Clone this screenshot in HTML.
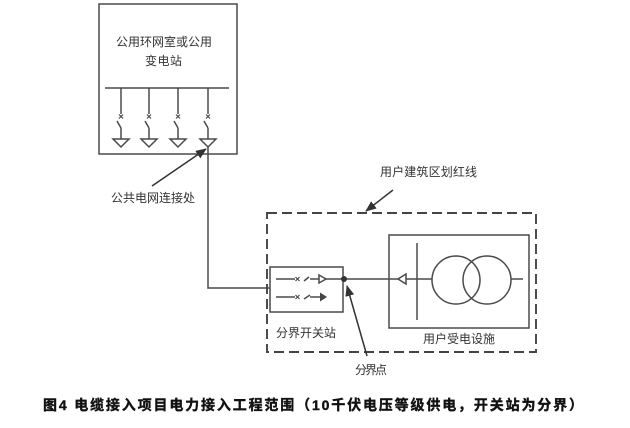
<!DOCTYPE html>
<html><head><meta charset="utf-8">
<style>
html,body{margin:0;padding:0;background:#fff;}
svg{display:block;}
text{font-family:"Liberation Sans","Noto Sans CJK SC",sans-serif;fill:#333;}
</style></head>
<body>
<svg width="630" height="428" viewBox="0 0 630 428" xmlns="http://www.w3.org/2000/svg">
<defs>
<marker id="ah" markerWidth="11" markerHeight="9" refX="10" refY="4.5" orient="auto" markerUnits="userSpaceOnUse">
<path d="M0,0 L11,4.5 L0,9 Z" fill="#333"/>
</marker>
</defs>
<g stroke="#4a4a4a" stroke-width="1.5" fill="none">
<!-- top station box -->
<rect x="99" y="4" width="138" height="150"/>
<line x1="105" y1="88" x2="229" y2="88"/>
<!-- feeders -->
<g id="f">
<line x1="121" y1="88" x2="121" y2="114"/>
<path d="M119,114.5 L123,118.5 M123,114.5 L119,118.5" stroke-width="1.2"/>
<line x1="121" y1="128" x2="117" y2="121"/>
<line x1="121" y1="128" x2="121" y2="139"/>
<path d="M113,139 L129,139 L121,147 Z"/>
</g>
<use href="#f" x="28"/>
<use href="#f" x="57"/>
<use href="#f" x="87"/>
<!-- link line -->
<polyline points="208,147 208,288 270,288"/>
<!-- dashed boundary -->
<rect x="267" y="213" width="269" height="139" stroke="#444" stroke-width="1.9" stroke-dasharray="10,5"/>
<!-- switch station box -->
<rect x="270" y="267" width="73" height="45"/>
<!-- row1 -->
<line x1="276" y1="279" x2="295" y2="279"/>
<path d="M295.5,277 L299.5,281 M299.5,277 L295.5,281" stroke-width="1.2"/>
<line x1="304" y1="281" x2="309" y2="277"/>
<line x1="310" y1="279" x2="319" y2="279"/>
<path d="M319,275 L326,279 L319,283 Z"/>
<line x1="326" y1="279" x2="389" y2="279"/>
<!-- row2 -->
<line x1="276" y1="297" x2="295" y2="297"/>
<path d="M295.5,295 L299.5,299 M299.5,295 L295.5,299" stroke-width="1.2"/>
<line x1="304" y1="299" x2="310" y2="295"/>
<line x1="310" y1="297" x2="320" y2="297"/>
<!-- user box -->
<rect x="389" y="235" width="140" height="93"/>
<line x1="389" y1="279" x2="398" y2="279"/>
<path d="M406,274 L398,279 L406,284 Z"/>
<line x1="406" y1="279" x2="432" y2="279"/>
<line x1="417" y1="243" x2="417" y2="320"/>
<circle cx="456" cy="280" r="24"/>
<circle cx="487" cy="280" r="24"/>
<line x1="511" y1="279" x2="523" y2="279"/>
<!-- arrows -->
<line x1="152" y1="186" x2="206" y2="149" stroke="#333" marker-end="url(#ah)"/>
<line x1="393" y1="190" x2="366" y2="211" stroke="#333" marker-end="url(#ah)"/>
<line x1="367" y1="356" x2="347" y2="286" stroke="#333" marker-end="url(#ah)"/>
</g>
<path d="M320,292.5 L327,297 L320,301.5 Z" fill="#444"/>
<circle cx="344" cy="279" r="3" fill="#333"/>
<!-- labels -->
<text x="116" y="46" font-size="12" textLength="96" lengthAdjust="spacing">公用环网室或公用</text>
<text x="145" y="65" font-size="12" textLength="37" lengthAdjust="spacing">变电站</text>
<text x="111" y="202" font-size="12" textLength="84" lengthAdjust="spacing">公共电网连接处</text>
<text x="380" y="176" font-size="12" textLength="97" lengthAdjust="spacing">用户建筑区划红线</text>
<text x="276" y="337" font-size="12" textLength="60" lengthAdjust="spacing">分界开关站</text>
<text x="423" y="343" font-size="12" textLength="72" lengthAdjust="spacing">用户受电设施</text>
<text x="355" y="374" font-size="12" textLength="32" lengthAdjust="spacing">分界点</text>
<text x="43" y="410" font-size="14" font-weight="bold" style="fill:#111;stroke:#111;stroke-width:0.4" textLength="540" lengthAdjust="spacing">图4 电缆接入项目电力接入工程范围（10千伏电压等级供电，开关站为分界）</text>
</svg>
</body></html>
